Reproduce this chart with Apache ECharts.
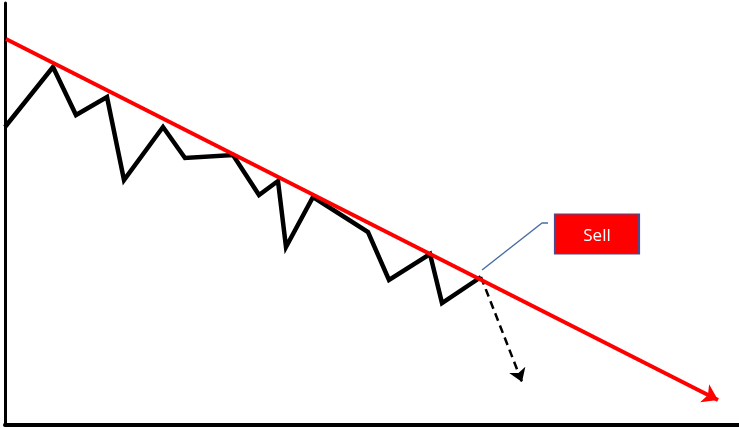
<!DOCTYPE html>
<html>
<head>
<meta charset="utf-8">
<script src="https://cdn.jsdelivr.net/npm/echarts@6/dist/echarts.min.js"></script>
<style>
  html, body { margin: 0; padding: 0; background: #fff; }
  #chart { width: 739px; height: 428px; }
</style>
</head>
<body>
<div id="chart"></div>
<script>
// time index and price of the zigzag
const priceTime = [0, 48, 71, 102, 119, 158, 180, 228, 254, 273, 281, 308, 363, 384, 425, 437, 476]
const priceValues = [298, 358, 310, 328, 245, 298, 267, 270, 230, 244, 178, 228, 193, 145, 171, 122, 148]

// downward trend line (start, end)
const trendTime = [1, 713]
const trendValues = [386, 25]

// projected move after the break
const projTime = [476, 517]
const projValues = [148, 43]

// callout leader and label
const calloutTime = [477, 537, 543]
const calloutValues = [155, 202, 202]
const labelPos = [592, 191]
const labelText = 'Sell'

const chart = echarts.init(document.getElementById('chart'))

const zip = (xs, ys) => xs.map((x, i) => [x, ys[i]])

chart.setOption({
  animation: false,
  backgroundColor: '#fff',
  grid: { left: 5, right: 0, top: 3, bottom: 3 },
  xAxis: {
    type: 'value',
    min: 0,
    max: 734,
    axisLine: { show: true, lineStyle: { color: '#000', width: 4 } },
    axisTick: { show: false },
    axisLabel: { show: false },
    splitLine: { show: false }
  },
  yAxis: {
    type: 'value',
    min: 0,
    max: 422,
    axisLine: { show: true, lineStyle: { color: '#000', width: 3 } },
    axisTick: { show: false },
    axisLabel: { show: false },
    splitLine: { show: false }
  },
  series: [
    {
      // price path
      type: 'line',
      data: zip(priceTime, priceValues),
      showSymbol: false,
      lineStyle: { color: '#000', width: 4.5, join: 'miter' },
      z: 3
    },
    {
      // trend line with arrow
      type: 'lines',
      coordinateSystem: 'cartesian2d',
      symbol: ['none', 'arrow'],
      symbolSize: 15,
      lineStyle: { color: '#f00', width: 4, opacity: 1 },
      data: [{ coords: zip(trendTime, trendValues) }],
      z: 4
    },
    {
      // dashed projection arrow
      type: 'lines',
      coordinateSystem: 'cartesian2d',
      symbol: ['none', 'arrow'],
      symbolSize: 13,
      lineStyle: { color: '#000', width: 2.5, type: [8, 5], opacity: 1 },
      data: [{ coords: zip(projTime, projValues) }],
      z: 2
    },
    {
      // callout leader + label box
      type: 'line',
      data: zip(calloutTime, calloutValues),
      showSymbol: false,
      lineStyle: { color: '#4a6fa5', width: 1.5 },
      markPoint: {
        symbol: 'rect',
        symbolSize: [84, 40],
        itemStyle: { color: '#ff0000', borderColor: '#4d4a8c', borderWidth: 1.5 },
        label: {
          show: true,
          position: 'inside',
          formatter: labelText,
          color: '#fff',
          fontSize: 17,
          fontFamily: 'Open Sans',
          offset: [0, 2]
        },
        data: [{ coord: labelPos }]
      },
      z: 5
    }
  ]
})
</script>
</body>
</html>
